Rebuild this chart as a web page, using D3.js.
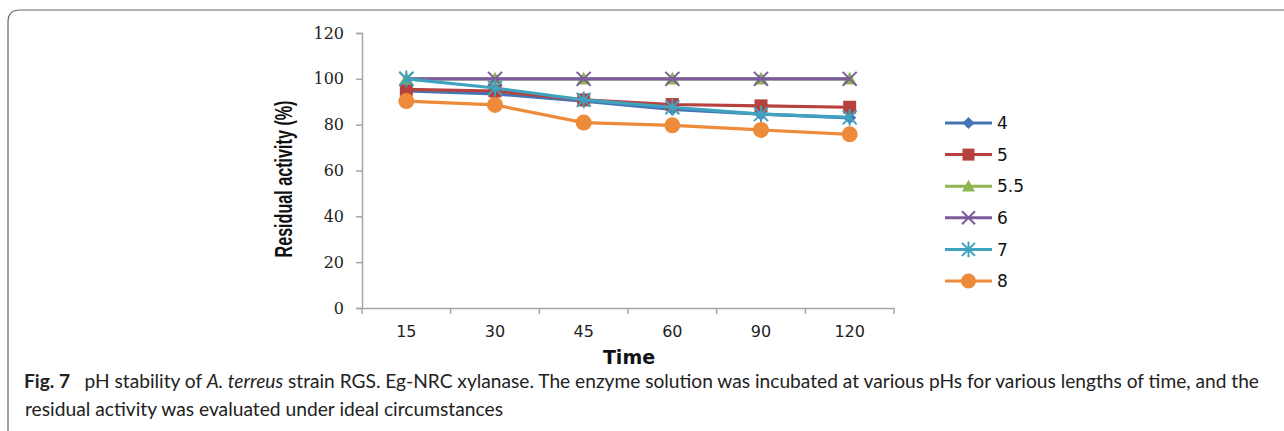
<!DOCTYPE html>
<html>
<head>
<meta charset="utf-8">
<script src="https://cdn.jsdelivr.net/npm/d3@7"></script>
<style>
  body { margin: 0; background: #fff; }
  svg { display: block; }
</style>
</head>
<body>
<div id="chart"></div>
<script>
//Datos
const times = ['15', '30', '45', '60', '90', '120'];
const seriesNames = ['4', '5', '5.5', '6', '7', '8'];
const ph4 = [94.7, 93.4, 90.3, 86.7, 84.6, 83.0];
const ph5 = [95.4, 94.7, 90.8, 88.8, 88.2, 87.6];
const ph55 = [100, 100, 100, 100, 100, 100];
const ph6 = [100, 100, 100, 100, 100, 100];
const ph7 = [100, 96.0, 90.8, 87.6, 84.6, 83.2];
const ph8 = [90.3, 88.6, 80.9, 79.7, 77.7, 75.8];
const yTicks = [0, 20, 40, 60, 80, 100, 120];

//Colores fijos
const COLORS = ['#4475b5', '#b7413e', '#8fb553', '#7c5b9d', '#3fa3bf', '#ed8b3a'];
const SHAPES = ['diamond', 'square', 'triangle', 'x', 'star', 'circle'];

let values = [ph4, ph5, ph55, ph6, ph7, ph8];
let series = seriesNames.map(function(n, i) {
    return { name: n, color: COLORS[i], shape: SHAPES[i], values: values[i] };
});

let W = 1284, H = 431;
let margin = {top: 33, left: 362, right: 390, bottom: 123};

let svg = d3.select('#chart')
    .append('svg')
    .attr('width', W)
    .attr('height', H);

//Marco de la figura
svg.append('path')
    .attr('d', 'M8,440 L8,22 Q8,10 20,10 L1300,10')
    .attr('fill', 'none')
    .attr('stroke', '#666')
    .attr('stroke-width', 1.2);

let x = d3.scaleBand()
    .domain(times)
    .range([margin.left, 894]);

let y = d3.scaleLinear()
    .domain([0, 120])
    .range([308, 33]);

let axisColor = '#a6a6a6';

//Eje Y
let yAxis = function(g) {
    g.call(d3.axisLeft(y).tickValues(yTicks).tickSize(6).tickPadding(12));
    g.call(function(g) { g.select('.domain').attr('stroke', axisColor).attr('stroke-width', 1.5); });
    g.call(function(g) { g.selectAll('.tick line').attr('stroke', axisColor).attr('stroke-width', 1.5); });
    g.call(function(g) {
        g.selectAll('.tick text')
            .attr('fill', '#222')
            .style('font-family', '"DejaVu Serif", serif')
            .style('font-size', '16px');
    });
}

svg.append('g')
    .attr('transform', 'translate(' + margin.left + ',0)')
    .call(yAxis);

//Eje X
svg.append('g')
    .attr('transform', 'translate(0,308)')
    .call(function(g) {
        g.call(d3.axisBottom(x).tickSize(0).tickPadding(18));
        g.select('.domain').attr('stroke', axisColor).attr('stroke-width', 1.5);
        g.selectAll('.tick text')
            .attr('fill', '#222')
            .style('font-family', '"DejaVu Sans", sans-serif')
            .style('font-size', '16px');
    });

//Marcas entre categorías
svg.append('g')
    .selectAll('line')
    .data(times.concat(['end']))
    .enter()
    .append('line')
    .attr('x1', function(d) { return d == 'end' ? x.range()[1] : x(d); })
    .attr('x2', function(d) { return d == 'end' ? x.range()[1] : x(d); })
    .attr('y1', 308)
    .attr('y2', 314)
    .attr('stroke', axisColor)
    .attr('stroke-width', 1.5);

//Títulos de ejes
svg.append('text')
    .attr('x', 629)
    .attr('y', 364)
    .attr('text-anchor', 'middle')
    .style('font-family', '"DejaVu Sans", sans-serif')
    .style('font-weight', '700')
    .style('font-size', '19px')
    .attr('fill', '#111')
    .text('Time');

svg.append('text')
    .attr('transform', 'translate(292,179) rotate(-90)')
    .attr('text-anchor', 'middle')
    .attr('textLength', 157)
    .attr('lengthAdjust', 'spacingAndGlyphs')
    .style('font-family', '"Liberation Sans", Arial, sans-serif')
    .style('font-weight', '700')
    .style('font-size', '24px')
    .attr('fill', '#111')
    .text('Residual activity (%)');

//Marcadores
function drawMarker(g, shape, color, cx, cy, s) {
    if (shape == 'diamond') {
        g.append('path')
            .attr('d', 'M' + cx + ',' + (cy - s) + 'L' + (cx + s) + ',' + cy + 'L' + cx + ',' + (cy + s) + 'L' + (cx - s) + ',' + cy + 'Z')
            .attr('fill', color);
    } else if (shape == 'square') {
        g.append('rect')
            .attr('x', cx - s).attr('y', cy - s)
            .attr('width', 2 * s).attr('height', 2 * s)
            .attr('fill', color);
    } else if (shape == 'triangle') {
        g.append('path')
            .attr('d', 'M' + cx + ',' + (cy - s) + 'L' + (cx + s) + ',' + (cy + s * 0.8) + 'L' + (cx - s) + ',' + (cy + s * 0.8) + 'Z')
            .attr('fill', color);
    } else if (shape == 'x') {
        g.append('path')
            .attr('d', 'M' + (cx - s) + ',' + (cy - s) + 'L' + (cx + s) + ',' + (cy + s) + 'M' + (cx + s) + ',' + (cy - s) + 'L' + (cx - s) + ',' + (cy + s))
            .attr('stroke', color).attr('stroke-width', 2).attr('fill', 'none');
    } else if (shape == 'star') {
        g.append('path')
            .attr('d', 'M' + (cx - s) + ',' + (cy - s) + 'L' + (cx + s) + ',' + (cy + s) + 'M' + (cx + s) + ',' + (cy - s) + 'L' + (cx - s) + ',' + (cy + s) + 'M' + cx + ',' + (cy - s * 1.2) + 'L' + cx + ',' + (cy + s * 1.2))
            .attr('stroke', color).attr('stroke-width', 2).attr('fill', 'none');
    } else {
        g.append('circle')
            .attr('cx', cx).attr('cy', cy).attr('r', s)
            .attr('fill', color);
    }
}

let markerSize = { diamond: 6.5, square: 6.5, triangle: 7, x: 7, star: 7, circle: 8 };

let line = d3.line()
    .x(function(d, i) { return x(times[i]) + x.bandwidth() / 2; })
    .y(function(d) { return y(d); });

let plot = svg.append('g').attr('class', 'chart-g');

series.forEach(function(s) {
    let g = plot.append('g');
    g.append('path')
        .datum(s.values)
        .attr('d', line)
        .attr('fill', 'none')
        .attr('stroke', s.color)
        .attr('stroke-width', 3.2);
    s.values.forEach(function(v, i) {
        drawMarker(g, s.shape, s.color, x(times[i]) + x.bandwidth() / 2, y(v), markerSize[s.shape]);
    });
});

//Leyenda
let legendY = d3.scalePoint()
    .domain(seriesNames)
    .range([123, 281]);

let legend = svg.append('g');
series.forEach(function(s) {
    let ly = legendY(s.name);
    legend.append('line')
        .attr('x1', 945).attr('x2', 992)
        .attr('y1', ly).attr('y2', ly)
        .attr('stroke', s.color)
        .attr('stroke-width', 3);
    drawMarker(legend, s.shape, s.color, 968.5, ly, markerSize[s.shape] - 0.5);
    legend.append('text')
        .attr('x', 997)
        .attr('y', ly)
        .attr('dy', '0.36em')
        .style('font-family', '"DejaVu Sans", sans-serif')
        .style('font-size', '17px')
        .attr('fill', '#111')
        .text(s.name);
});

//Pie de figura
let caption = svg.append('g')
    .style('font-family', 'Lato, "Open Sans", sans-serif')
    .style('font-size', '18.5px')
    .attr('fill', '#222');

let line1 = caption.append('text')
    .attr('x', 24)
    .attr('y', 388)
    .attr('textLength', 1235)
    .attr('lengthAdjust', 'spacingAndGlyphs');
line1.append('tspan').style('font-weight', '700').text('Fig. 7');
line1.append('tspan').text('\u2002 pH stability of ');
line1.append('tspan').style('font-style', 'italic').text('A. terreus');
line1.append('tspan').text(' strain RGS. Eg-NRC xylanase. The enzyme solution was incubated at various pHs for various lengths of time, and the');

caption.append('text')
    .attr('x', 25)
    .attr('y', 416)
    .attr('textLength', 478)
    .attr('lengthAdjust', 'spacingAndGlyphs')
    .text('residual activity was evaluated under ideal circumstances');
</script>
</body>
</html>
